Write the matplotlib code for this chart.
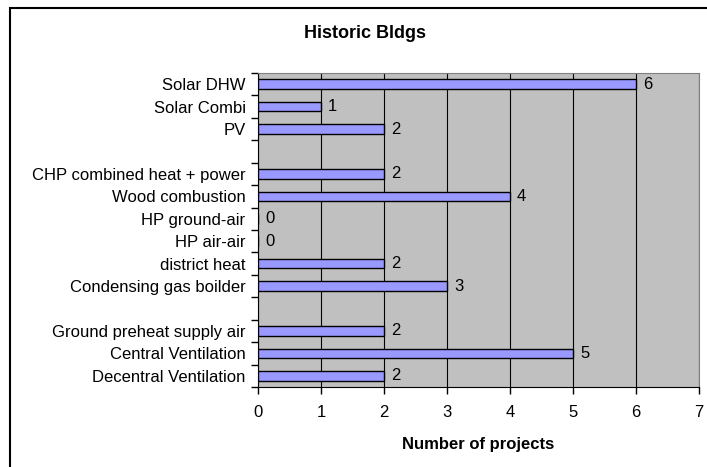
import numpy as np
import matplotlib
matplotlib.use("Agg")
import matplotlib.pyplot as plt
from matplotlib.patches import Rectangle

plt.rcParams['font.family'] = ['Liberation Sans', 'DejaVu Sans']

# data, top to bottom ("" = empty gap row)
categories = ["Solar DHW", "Solar Combi", "PV", "",
              "CHP combined heat + power", "Wood combustion", "HP ground-air",
              "HP air-air", "district heat", "Condensing gas boilder", "",
              "Ground preheat supply air", "Central Ventilation", "Decentral Ventilation"]
values = [6, 1, 2, None, 2, 4, 0, 0, 2, 3, None, 2, 5, 2]
x_ticks = [0, 1, 2, 3, 4, 5, 6, 7]

fig = plt.figure(figsize=(7.07, 4.67), dpi=100)
ax = fig.add_axes([258 / 707, 1 - 387 / 467, 441 / 707, 314 / 467])
ax.set_facecolor("#C0C0C0")

pos = np.arange(len(categories))
bar_pos = [p for p, v in zip(pos, values) if v is not None]
bar_val = [v for v in values if v is not None]
ax.barh(bar_pos, bar_val, height=0.43, color="#9999FF", edgecolor="black",
        linewidth=1, zorder=3)
for p, v in zip(bar_pos, bar_val):
    ax.annotate(str(v), (v, p), xytext=(5, 0), textcoords="offset points",
                va="center", ha="left", fontsize=12, zorder=4)

ax.set_ylim(len(categories) - 0.5, -0.5)
ax.set_xlim(0, 7)
ax.set_xticks(x_ticks)
ax.set_xticklabels([str(t) for t in x_ticks], fontsize=12)
ax.set_yticks(pos)
ax.set_yticklabels(categories, fontsize=12)
ax.set_yticks(np.arange(-0.5, len(categories)), minor=True)
ax.tick_params(axis="y", which="major", length=0, pad=9)
ax.tick_params(axis="y", which="minor", length=5, direction="out", width=1)
ax.tick_params(axis="x", length=5, direction="out", width=1, pad=8)
ax.grid(axis="x", color="black", linewidth=0.8, zorder=1)

for s in ["top", "right"]:
    ax.spines[s].set_color("#808080")
for s in ["left", "bottom"]:
    ax.spines[s].set_color("black")

ax.set_xlabel("Number of projects", fontsize=12, fontweight="bold", labelpad=12)
fig.text(365 / 707, 1 - 33 / 467, "Historic Bldgs", ha="center", va="center",
         fontsize=13, fontweight="bold")

# chart frame (cut at right and bottom in the reference)
fig.patches.append(Rectangle((10 / 707, -0.1), 1.2, 1.1 - 8 / 467,
                             transform=fig.transFigure, fill=False,
                             edgecolor="black", linewidth=1.5))

fig.savefig("out.png", dpi=100)
